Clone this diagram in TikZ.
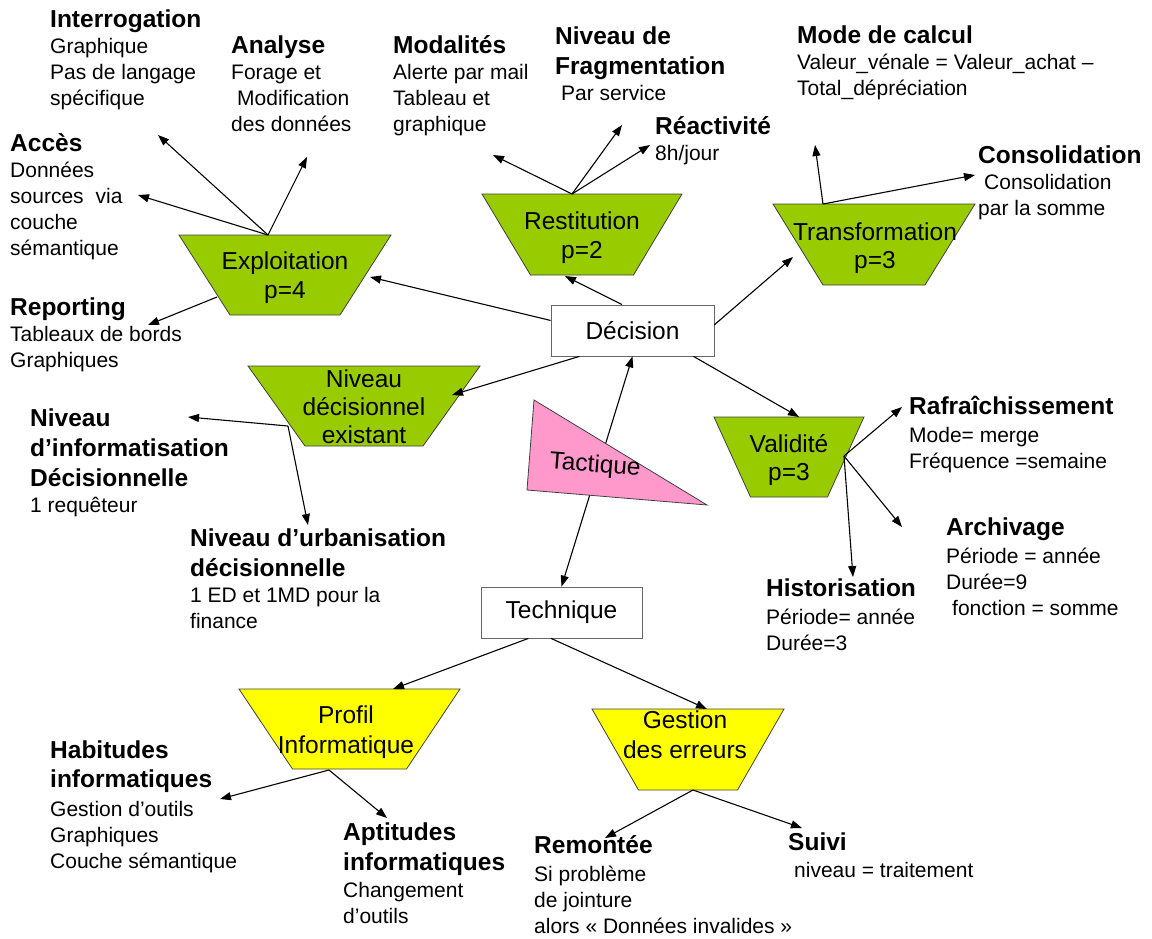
\documentclass[tikz,border=0pt]{standalone}
\usepackage{fontspec}
\setmainfont{Liberation Sans}
\usetikzlibrary{arrows.meta,calc}
\definecolor{leafgreen}{RGB}{153,204,0}
\definecolor{trapyellow}{RGB}{255,255,0}
\definecolor{tacpink}{RGB}{255,153,204}
\newcommand{\bodyfont}{\fontsize{21}{26}\selectfont}
\newcommand{\nodefont}{\fontsize{24.5}{29}\selectfont}
\newcommand{\ttl}[1]{{\fontsize{24.5}{29}\selectfont\bfseries #1}}
% trapezoid: center, top half width, bottom half width, half height, fill
\newcommand{\trapshape}[5]{%
    \draw[trap line, fill=#5] ($(#1)+(-#2,-#4)$) -- ($(#1)+(#2,-#4)$)
        -- ($(#1)+(#3,#4)$) -- ($(#1)+(-#3,#4)$) -- cycle;}
\tikzset{
    trap line/.style={draw=black!75,line width=0.8pt},
    box/.style={draw=black!60,fill=white,line width=0.8pt,minimum width=163pt,minimum height=51pt,inner sep=0pt,font=\nodefont},
    traplabel/.style={anchor=base,align=center,inner sep=0pt,font=\nodefont},
    lbl/.style={anchor=base west,align=left,inner sep=0pt,font=\bodyfont},
    arr/.style={-{Triangle[length=11pt,width=8pt]},line width=1.1pt},
    darr/.style={{Triangle[length=11pt,width=8pt]}-{Triangle[length=11pt,width=8pt]},line width=1.1pt},
}

\begin{document}
\begin{tikzpicture}[x=1pt,y=-1pt]
    \useasboundingbox (0,0) rectangle (1152,938);

    % centre boxes and the tactique link under the triangle
    \node[box] (dec) at (632.5,330.5) {Décision};
    \node[box,minimum width=161pt] (tech) at (561.5,612.5) {Technique};
    \draw[darr] (dec.south) -- (tech.north);
    \draw[trap line,fill=tacpink] (534,400) -- (707,505) -- (527,490) -- cycle;
    \node[traplabel,anchor=center,rotate=-4.5] (tac) at (595,466) {Tactique};

    % trapezoids (labels placed by their last line)
    \trapshape{285,275}{106}{55}{40}{leafgreen}
    \node[traplabel] (exp) at (285,298) {Exploitation\\p=4};
    \trapshape{582,234.5}{100}{51.5}{40.5}{leafgreen}
    \node[traplabel] (res) at (582,258) {Restitution\\p=2};
    \trapshape{874,244.5}{101}{51}{40.5}{leafgreen}
    \node[traplabel,font=\fontsize{24.5}{28}\selectfont] (tra) at (875,268) {Transformation\\p=3};
    \trapshape{364,406}{116}{59}{40}{leafgreen}
    \node[traplabel,font=\fontsize{24.5}{28}\selectfont] (niv) at (364,443) {Niveau\\décisionnel\\existant};
    \trapshape{789,457}{75}{38.5}{40}{leafgreen}
    \node[traplabel,font=\fontsize{24.5}{28}\selectfont] (val) at (789,480) {Validité\\p=3};
    \trapshape{349.5,729}{110.5}{57}{40}{trapyellow}
    \node[traplabel,font=\fontsize{24.5}{30}\selectfont] (pro) at (346,753) {Profil\\Informatique};
    \trapshape{688,749.5}{96}{49.5}{40.5}{trapyellow}
    \node[traplabel,font=\fontsize{24.5}{30}\selectfont] (ges) at (685,758) {Gestion\\des erreurs};

    % texts (placed by their last line)
    \node[lbl] (interro) at (50,105) {\ttl{Interrogation}\\Graphique\\Pas de langage\\spécifique};
    \node[lbl] (analyse) at (231,131) {\ttl{Analyse}\\Forage et\\\hspace{6pt}Modification\\des données};
    \node[lbl] (acces) at (10,255) {\ttl{Accès}\\Données\\sources\hspace{12pt}via\\couche\\sémantique};
    \node[lbl] (report) at (10,367) {\ttl{Reporting}\\Tableaux de bords\\Graphiques};
    \node[lbl] (modal) at (393,131) {\ttl{Modalités}\\Alerte par mail\\Tableau et\\graphique};
    \node[lbl] (frag) at (555,100) {\ttl{Niveau de}\\[4pt]\ttl{Fragmentation}\\\hspace{6pt}Par service};
    \node[lbl] (reac) at (655,160) {\ttl{Réactivité}\\8h/jour};
    \node[lbl] (calcul) at (797,95) {\ttl{Mode de calcul}\\Valeur\_vénale = Valeur\_achat –\\Total\_dépréciation};
    \node[lbl] (consol) at (978,215) {\ttl{Consolidation}\\\hspace{6pt}Consolidation\\par la somme};
    \node[lbl] (informat) at (30,512) {\ttl{Niveau}\\[4pt]\ttl{d’informatisation}\\[4pt]\ttl{Décisionnelle}\\1 requêteur};
    \node[lbl] (urban) at (190,628) {\ttl{Niveau d’urbanisation}\\[4pt]\ttl{décisionnelle}\\1 ED et 1MD pour la\\finance};
    \node[lbl] (rafr) at (909,468) {\ttl{Rafraîchissement}\\[2pt]Mode= merge\\Fréquence =semaine};
    \node[lbl] (archiv) at (946,615) {\ttl{Archivage}\\[2pt]Période = année\\Durée=9\\\hspace{6pt}fonction = somme};
    \node[lbl] (histo) at (766,650) {\ttl{Historisation}\\[2pt]Période= année\\Durée=3};
    \node[lbl] (habit) at (50,868) {\ttl{Habitudes}\\[3pt]\ttl{informatiques}\\[3pt]Gestion d’outils\\Graphiques\\Couche sémantique};
    \node[lbl] (aptit) at (343,923) {\ttl{Aptitudes}\\[4pt]\ttl{informatiques}\\[1pt]Changement\\d’outils};
    \node[lbl] (remont) at (534,933) {\ttl{Remontée}\\[2pt]Si problème\\de jointure\\alors « Données invalides »};
    \node[lbl] (suivi) at (788,877) {\ttl{Suivi}\\[1pt]\hspace{6pt}niveau = traitement};

    % attach points
    \coordinate (exp-t) at (268,235);
    \coordinate (exp-l) at (217,297);
    \coordinate (exp-r) at (370,277);
    \coordinate (interro-a) at (158,135);
    \coordinate (analyse-a) at (307,157);
    \coordinate (acces-a) at (138,195);
    \coordinate (report-a) at (148,325);
    \coordinate (res-t) at (572,194);
    \coordinate (res-b) at (565,276);
    \coordinate (modal-a) at (493,155);
    \coordinate (frag-a) at (622,125);
    \coordinate (reac-a) at (650,145);
    \coordinate (tra-t) at (823,204);
    \coordinate (tra-l) at (793,257);
    \coordinate (calcul-a) at (815,145);
    \coordinate (consol-a) at (975,175);
    \coordinate (niv-l) at (288,426);
    \coordinate (niv-r) at (452,395);
    \coordinate (informat-a) at (188,417);
    \coordinate (urban-a) at (308,525);
    \coordinate (val-t) at (799,417);
    \coordinate (val-r) at (844,456);
    \coordinate (rafr-a) at (902,407);
    \coordinate (archiv-a) at (902,527);
    \coordinate (histo-a) at (853,577);
    \coordinate (pro-t) at (393,689);
    \coordinate (pro-b) at (329,770);
    \coordinate (habit-a) at (220,799);
    \coordinate (aptit-a) at (387,818);
    \coordinate (ges-t) at (707,709);
    \coordinate (ges-b) at (693,790);
    \coordinate (remont-a) at (605,838);
    \coordinate (suivi-a) at (802,828);

    % decision links
    \draw[arr] (dec.173) -- (exp-r);
    \draw[arr] (dec.112) -- (res-b);
    \draw[arr] (dec.4) -- (tra-l);
    \draw[arr] (dec.206) -- (niv-r);
    \draw[arr] (dec.337) -- (val-t);
    \draw[arr] (tech.218) -- (pro-t);
    \draw[arr] (tech.248) -- (ges-t);

    % criteria
    \draw[arr] (exp-t) -- (interro-a);
    \draw[arr] (exp-t) -- (analyse-a);
    \draw[arr] (exp-t) -- (acces-a);
    \draw[arr] (exp-l) -- (report-a);
    \draw[arr] (res-t) -- (modal-a);
    \draw[arr] (res-t) -- (frag-a);
    \draw[arr] (res-t) -- (reac-a);
    \draw[arr] (tra-t) -- (calcul-a);
    \draw[arr] (tra-t) -- (consol-a);
    \draw[arr] (niv-l) -- (informat-a);
    \draw[arr] (niv-l) -- (urban-a);
    \draw[arr] (val-r) -- (rafr-a);
    \draw[arr] (val-r) -- (archiv-a);
    \draw[arr] (val-r) -- (histo-a);
    \draw[arr] (pro-b) -- (habit-a);
    \draw[arr] (pro-b) -- (aptit-a);
    \draw[arr] (ges-b) -- (remont-a);
    \draw[arr] (ges-b) -- (suivi-a);
\end{tikzpicture}
\end{document}
